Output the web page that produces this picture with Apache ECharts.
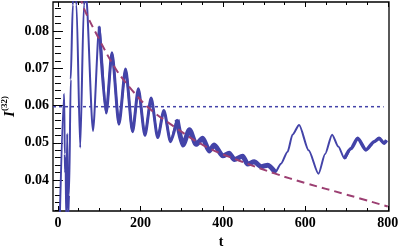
<!DOCTYPE html>
<html>
<head>
<meta charset="utf-8">
<script src="https://cdn.jsdelivr.net/npm/echarts@6/dist/echarts.min.js"></script>
<style>html,body{margin:0;padding:0;background:#fff;}#c{width:399px;height:250px;}</style>
</head>
<body>
<div id="c"></div>
<script>
// ---- data ----
const oscT = [4, 15, 16.5, 17.5, 18.5, 20, 22.5, 24.5, 27, 31, 36, 40, 45, 54, 63, 68, 85, 100, 117, 131, 148, 164, 181, 195, 211, 226, 242, 257, 273, 289, 303, 319, 335, 351, 367, 379, 400, 415, 428, 448, 460, 476, 493, 509, 527, 541, 557, 569, 585, 608, 632, 648, 665, 680, 695, 711, 727, 747, 767, 779, 791, 797];
const oscI = [0.028, 0.0632, 0.047, 0.042, 0.046, 0.030, 0.0525, 0.030, 0.036, 0.067, 0.087, 0.094, 0.087, 0.0487, 0.0870, 0.0900, 0.0532, 0.0812, 0.0580, 0.0742, 0.0550, 0.0698, 0.0530, 0.0645, 0.0520, 0.0620, 0.0514, 0.0587, 0.0503, 0.0562, 0.0494, 0.0535, 0.0496, 0.0512, 0.0478, 0.0494, 0.0465, 0.0472, 0.0455, 0.0464, 0.0443, 0.0449, 0.0436, 0.0440, 0.0421, 0.0444, 0.0476, 0.0522, 0.0548, 0.0480, 0.0417, 0.0470, 0.0522, 0.0490, 0.0458, 0.0485, 0.0512, 0.0481, 0.0503, 0.0512, 0.0499, 0.0507];
const fitT = [55, 61, 100, 141, 180, 222, 280, 355, 440, 525, 600, 700, 800];
const fitI = [0.0895, 0.0866, 0.0778, 0.0697, 0.0641, 0.0592, 0.0545, 0.0492, 0.0452, 0.0418, 0.0392, 0.0361, 0.0329];
const levelT = [-12, 790];
const levelI = [0.0597, 0.0597];
const xTicks = [0, 200, 400, 600, 800];
const xMinorTicks = [50, 100, 150, 250, 300, 350, 450, 500, 550, 650, 700, 750];
const yTicks = [0.04, 0.05, 0.06, 0.07, 0.08];
const yMinorTicks = [0.032, 0.034, 0.036, 0.038, 0.042, 0.044, 0.046, 0.048, 0.052, 0.054, 0.056, 0.058, 0.062, 0.064, 0.066, 0.068, 0.072, 0.074, 0.076, 0.078, 0.082, 0.084, 0.086];
const xLabel = 't';
// ---------------------------------------

const XMIN = -12, XMAX = 803, YMIN = 0.0317, YMAX = 0.0878;
const font = 'Liberation Serif';
const blue = '#4343a8';
const purple = '#9c3f72';

const pairs = (a, b) => a.map((v, i) => [v, b[i]]);
const osc = pairs(oscT, oscI);
const seg = (lo, hi) => osc.filter(p => p[0] >= lo && p[0] <= hi);

function xAx(pos, ticks, len, labels) {
  return {
    type: 'value', min: XMIN, max: XMAX, position: pos,
    axisLine: {show: false}, splitLine: {show: false},
    axisTick: {show: true, inside: true, length: len, customValues: ticks, lineStyle: {color: '#000', width: 1}},
    axisLabel: {show: labels, customValues: ticks, margin: 5, color: '#000', fontFamily: font, fontWeight: 'bold', fontSize: 14},
    name: labels ? xLabel : '', nameLocation: 'middle', nameGap: 24, nameMoveOverlap: false,
    nameTextStyle: {color: '#000', fontFamily: font, fontWeight: 'bold', fontSize: 14}
  };
}
function yAx(pos, ticks, len, labels) {
  return {
    type: 'value', min: YMIN, max: YMAX, position: pos,
    axisLine: {show: false}, splitLine: {show: false},
    axisTick: {show: true, inside: true, length: len, customValues: ticks, lineStyle: {color: '#000', width: 1}},
    axisLabel: {show: labels, customValues: ticks, margin: 4, color: '#000', fontFamily: font, fontWeight: 'bold', fontSize: 14,
      formatter: v => v.toFixed(2)},
    name: labels ? '{i|I}{s|(32)}' : '', nameLocation: 'middle', nameGap: 35, nameRotate: 90, nameMoveOverlap: false,
    nameTextStyle: {color: '#000', rich: {
      i: {fontFamily: font, fontStyle: 'italic', fontWeight: 'bold', fontSize: 15, color: '#000', verticalAlign: 'bottom', lineHeight: 18},
      s: {fontFamily: font, fontWeight: 'bold', fontSize: 9, color: '#000', verticalAlign: 'top', lineHeight: 18}
    }}
  };
}

const chart = echarts.init(document.getElementById('c'), null, {renderer: 'canvas'});
const lineBase = {type: 'line', showSymbol: false, symbol: 'none', clip: true, animation: false, silent: true};
chart.setOption({
  animation: false,
  grid: {left: 53, right: 10, top: 2, bottom: 39, containLabel: false, outerBoundsMode: 'none',
    show: true, borderColor: '#000', borderWidth: 1.3, backgroundColor: 'transparent'},
  xAxis: [xAx('bottom', xTicks, 5, true), xAx('bottom', xMinorTicks, 3, false), xAx('top', xTicks, 5, false), xAx('top', xMinorTicks, 3, false)],
  yAxis: [yAx('left', yTicks, 5, true), yAx('left', yMinorTicks, 3, false), yAx('right', yTicks, 5, false), yAx('right', yMinorTicks, 3, false)],
  series: [
    Object.assign({}, lineBase, {data: pairs(levelT, levelI), lineStyle: {color: blue, width: 1.5, type: [3, 3]}}),
    Object.assign({}, lineBase, {data: osc, smooth: 0.25, smoothMonotone: 'x', lineStyle: {color: blue, width: 2}}),
    Object.assign({}, lineBase, {data: seg(100, 300), smooth: 0.25, smoothMonotone: 'x', lineStyle: {color: blue, width: 3}}),
    Object.assign({}, lineBase, {data: seg(289, 530), smooth: 0.25, smoothMonotone: 'x', lineStyle: {color: blue, width: 5}}),
    Object.assign({}, lineBase, {data: seg(695, 800), smooth: 0.25, smoothMonotone: 'x', lineStyle: {color: blue, width: 3.5}}),
    Object.assign({}, lineBase, {data: pairs(fitT, fitI), smooth: 0.4, lineStyle: {color: purple, width: 2, type: [8, 5]}})
  ]
});
</script>
</body>
</html>
